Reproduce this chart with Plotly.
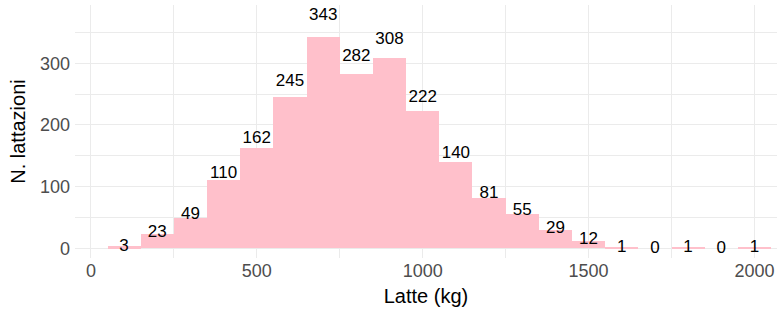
import plotly.graph_objects as go

bin_centers = [100, 200, 300, 400, 500, 600, 700, 800, 900, 1000,
               1100, 1200, 1300, 1400, 1500, 1600, 1700, 1800, 1900, 2000]
counts = [3, 23, 49, 110, 162, 245, 343, 282, 308, 222,
          140, 81, 55, 29, 12, 1, 0, 1, 0, 1]
bin_width = 100
label_factor = 1.1

x_title = "Latte (kg)"
y_title = "N. lattazioni"
font_family = "Liberation Sans, Arial, sans-serif"

fig = go.Figure()
fig.add_trace(go.Bar(
    x=bin_centers, y=counts, width=[bin_width] * len(counts),
    marker=dict(color="#FFC0CB", line=dict(width=0)),
    hoverinfo="x+y", showlegend=False,
))
fig.add_trace(go.Scatter(
    x=bin_centers, y=[c * label_factor for c in counts],
    text=[str(c) for c in counts], mode="text",
    textposition="middle center",
    textfont=dict(family=font_family, size=17, color="black"),
    showlegend=False, hoverinfo="skip", cliponaxis=False,
))

grid = "#EBEBEB"
fig.update_layout(
    width=777, height=315,
    margin=dict(l=75, r=0, t=5, b=57, autoexpand=False),
    paper_bgcolor="white", plot_bgcolor="white",
    font=dict(family=font_family),
    bargap=0,
    xaxis=dict(
        range=[-48, 2068], tickmode="linear", tick0=0, dtick=500,
        automargin=False,
        showgrid=True, gridcolor=grid, gridwidth=1.3, zeroline=False,
        showline=False, ticks="",
        tickfont=dict(size=18, color="#4D4D4D"),
        minor=dict(dtick=250, tick0=0, showgrid=True, gridcolor=grid, gridwidth=0.9),
        title=dict(text=x_title, font=dict(size=20, color="black"), standoff=8),
    ),
    yaxis=dict(
        range=[-15.7, 394.5], tickmode="linear", tick0=0, dtick=100,
        automargin=False,
        showgrid=True, gridcolor=grid, gridwidth=1.3, zeroline=False,
        showline=False, ticks="",
        tickfont=dict(size=18, color="#4D4D4D"),
        ticklabelstandoff=4,
        minor=dict(dtick=50, tick0=0, showgrid=True, gridcolor=grid, gridwidth=0.9),
        title=dict(text=y_title, font=dict(size=20, color="black"), standoff=8),
    ),
)

fig.write_html("out.html", config={"displayModeBar": False},
               post_script="document.body.style.margin='0';")
